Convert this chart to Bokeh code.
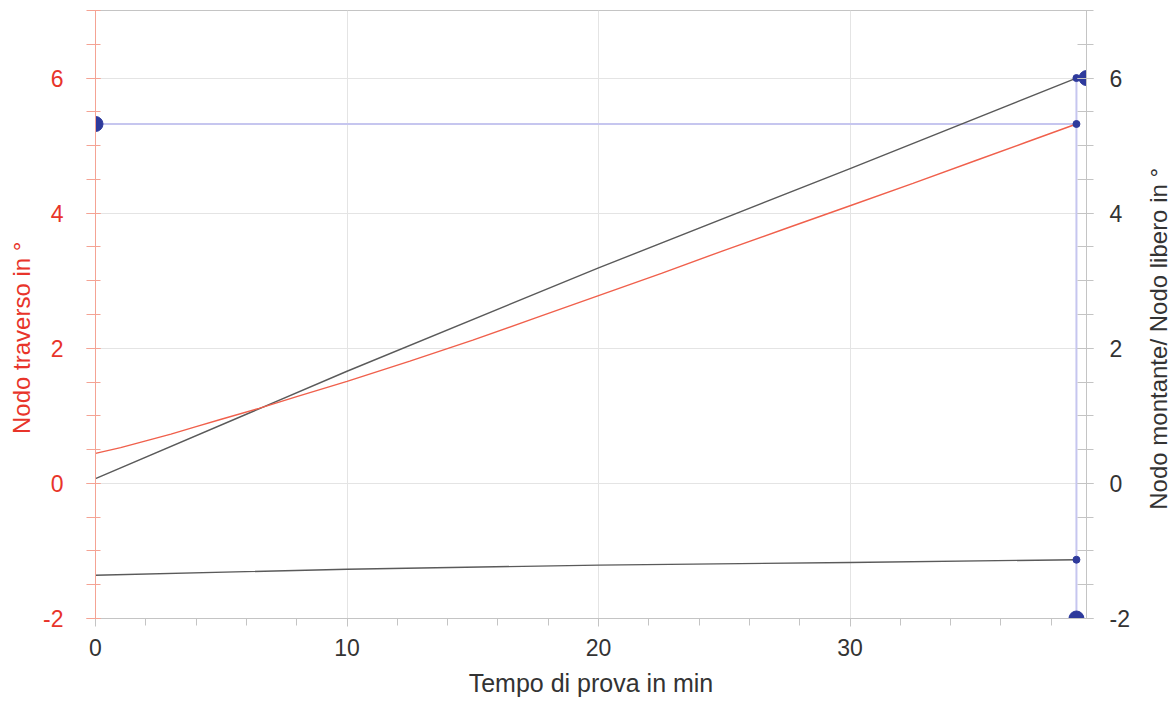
from bokeh.plotting import figure
from bokeh.layouts import row
from bokeh.models import Range1d, LinearAxis, SingleIntervalTicker, Label
from bokeh.embed import file_html
from bokeh.resources import INLINE

# ---- data ----
time_red = [0, 1, 2, 3, 4, 5, 6.5, 8, 10, 12.5, 15, 17.5, 20, 22.5, 25, 27.5, 30, 32.5, 35, 37, 39]
traverso = [0.445, 0.53, 0.63, 0.73, 0.84, 0.95, 1.11, 1.285, 1.51, 1.81, 2.12, 2.45, 2.78,
            3.11, 3.45, 3.78, 4.11, 4.44, 4.78, 5.05, 5.32]

time_black = [0, 10, 20, 30, 39]
montante = [0.07, 1.66, 3.19, 4.66, 6.0]
libero = [-1.36, -1.27, -1.21, -1.17, -1.13]

end_time = 39
ref_level = 5.32
x_start, x_end = 0, 39.4
y_min, y_max = -2, 7
y_top_mark = 6

big_x = [0, x_end, end_time]
big_y = [ref_level, y_top_mark, y_min]
small_x = [end_time, end_time, end_time]
small_y = [montante[-1], traverso[-1], libero[-1]]

x_title = "Tempo di prova in min"
left_title = "Nodo traverso in °"
right_title = "Nodo montante/ Nodo libero in °"

RED = "#e8342a"
RED_LINE = "#f0604c"
RED_AXIS = "#f4a394"
GRAY_AXIS = "#c4c4c4"
GRID = "#e4e4e4"
DARK = "#333333"
BLACK_LINE = "#5a5a5a"
BLUE = "#2e3a9c"
LAVENDER = "#c6c6ef"
FONT = "Liberation Sans"

H = 704
TOP, BOTTOM = 10, 86

p = figure(width=1136, height=H, output_backend="svg", toolbar_location=None,
           x_range=Range1d(x_start, x_end), y_range=Range1d(y_min, y_max),
           min_border_left=95, min_border_right=50, min_border_top=TOP,
           min_border_bottom=BOTTOM)
p.extra_y_ranges = {"right": Range1d(y_min, y_max)}
p.outline_line_color = GRAY_AXIS
p.background_fill_color = "white"
p.border_fill_color = "white"

xt = SingleIntervalTicker(interval=10, num_minor_ticks=5)
yt = SingleIntervalTicker(interval=2, num_minor_ticks=4)
overrides = {-2: "-2"}

# x axis
xa = p.xaxis[0]
xa.ticker = xt
xa.axis_line_color = GRAY_AXIS
xa.major_tick_line_color = GRAY_AXIS
xa.minor_tick_line_color = GRAY_AXIS
xa.major_tick_out = 8
xa.major_tick_in = 0
xa.minor_tick_out = 7
xa.minor_tick_in = 0
xa.major_label_standoff = 12
xa.major_label_text_font = FONT
xa.major_label_text_font_size = "23px"
xa.major_label_text_color = DARK
xa.axis_label = x_title
xa.axis_label_standoff = 10
xa.axis_label_text_font = FONT
xa.axis_label_text_font_size = "25px"
xa.axis_label_text_font_style = "normal"
xa.axis_label_text_color = DARK

# left axis
pad = "\u00a0" * 7
ya = p.yaxis[0]
ya.ticker = yt
ya.major_label_overrides = overrides
ya.axis_line_color = RED_AXIS
ya.major_tick_line_color = RED_AXIS
ya.minor_tick_line_color = RED_AXIS
ya.major_tick_out = 9
ya.major_tick_in = 5
ya.minor_tick_out = 9
ya.minor_tick_in = 5
ya.major_label_standoff = 23
ya.major_label_text_font = FONT
ya.major_label_text_font_size = "23px"
ya.major_label_text_color = RED
ya.axis_label = left_title + pad
ya.axis_label_standoff = 5
ya.axis_label_text_font = FONT
ya.axis_label_text_font_size = "24px"
ya.axis_label_text_font_style = "normal"
ya.axis_label_text_color = RED

# right axis (title drawn in a narrow side panel so it reads bottom-to-top)
ra = LinearAxis(y_range_name="right", ticker=SingleIntervalTicker(interval=2, num_minor_ticks=4))
ra.major_label_overrides = overrides
ra.axis_line_color = GRAY_AXIS
ra.major_tick_line_color = GRAY_AXIS
ra.minor_tick_line_color = GRAY_AXIS
ra.major_tick_out = 7
ra.major_tick_in = 9
ra.minor_tick_out = 7
ra.minor_tick_in = 9
ra.major_label_standoff = 16
ra.major_label_text_font = FONT
ra.major_label_text_font_size = "23px"
ra.major_label_text_color = DARK
p.add_layout(ra, "right")

p.xgrid.ticker = xt
p.ygrid.ticker = yt
p.xgrid.grid_line_color = GRID
p.ygrid.grid_line_color = GRID

# lavender reference lines
p.line([x_start, end_time], [ref_level, ref_level], line_color=LAVENDER, line_width=2)
p.line([end_time, end_time], [y_min, y_top_mark], line_color=LAVENDER, line_width=2)

# data lines
p.line(time_black, montante, line_color=BLACK_LINE, line_width=1.4, y_range_name="right")
p.line(time_black, libero, line_color=BLACK_LINE, line_width=1.4, y_range_name="right")
p.line(time_red, traverso, line_color=RED_LINE, line_width=1.4)

# markers
p.scatter(big_x, big_y, size=15, color=BLUE)
p.scatter(small_x, small_y, size=7, color=BLUE)

# side panel carrying the right-hand axis title
side_w = 37
p2 = figure(width=side_w, height=H, output_backend="svg", toolbar_location=None,
            x_range=Range1d(0, side_w), y_range=Range1d(y_min, y_max),
            x_axis_type=None, y_axis_type=None,
            min_border_left=0, min_border_right=0, min_border_top=TOP,
            min_border_bottom=BOTTOM)
p2.outline_line_color = None
p2.xgrid.visible = False
p2.ygrid.visible = False
p2.background_fill_color = "white"
p2.border_fill_color = "white"
p2.add_layout(Label(x=22, y=2.14, text=right_title, angle=90, angle_units="deg",
                    text_align="center", text_baseline="middle", text_color=DARK,
                    text_font=FONT, text_font_size="24px"))

layout = row(p, p2, spacing=0)
open("out.html", "w").write(file_html(layout, INLINE))
